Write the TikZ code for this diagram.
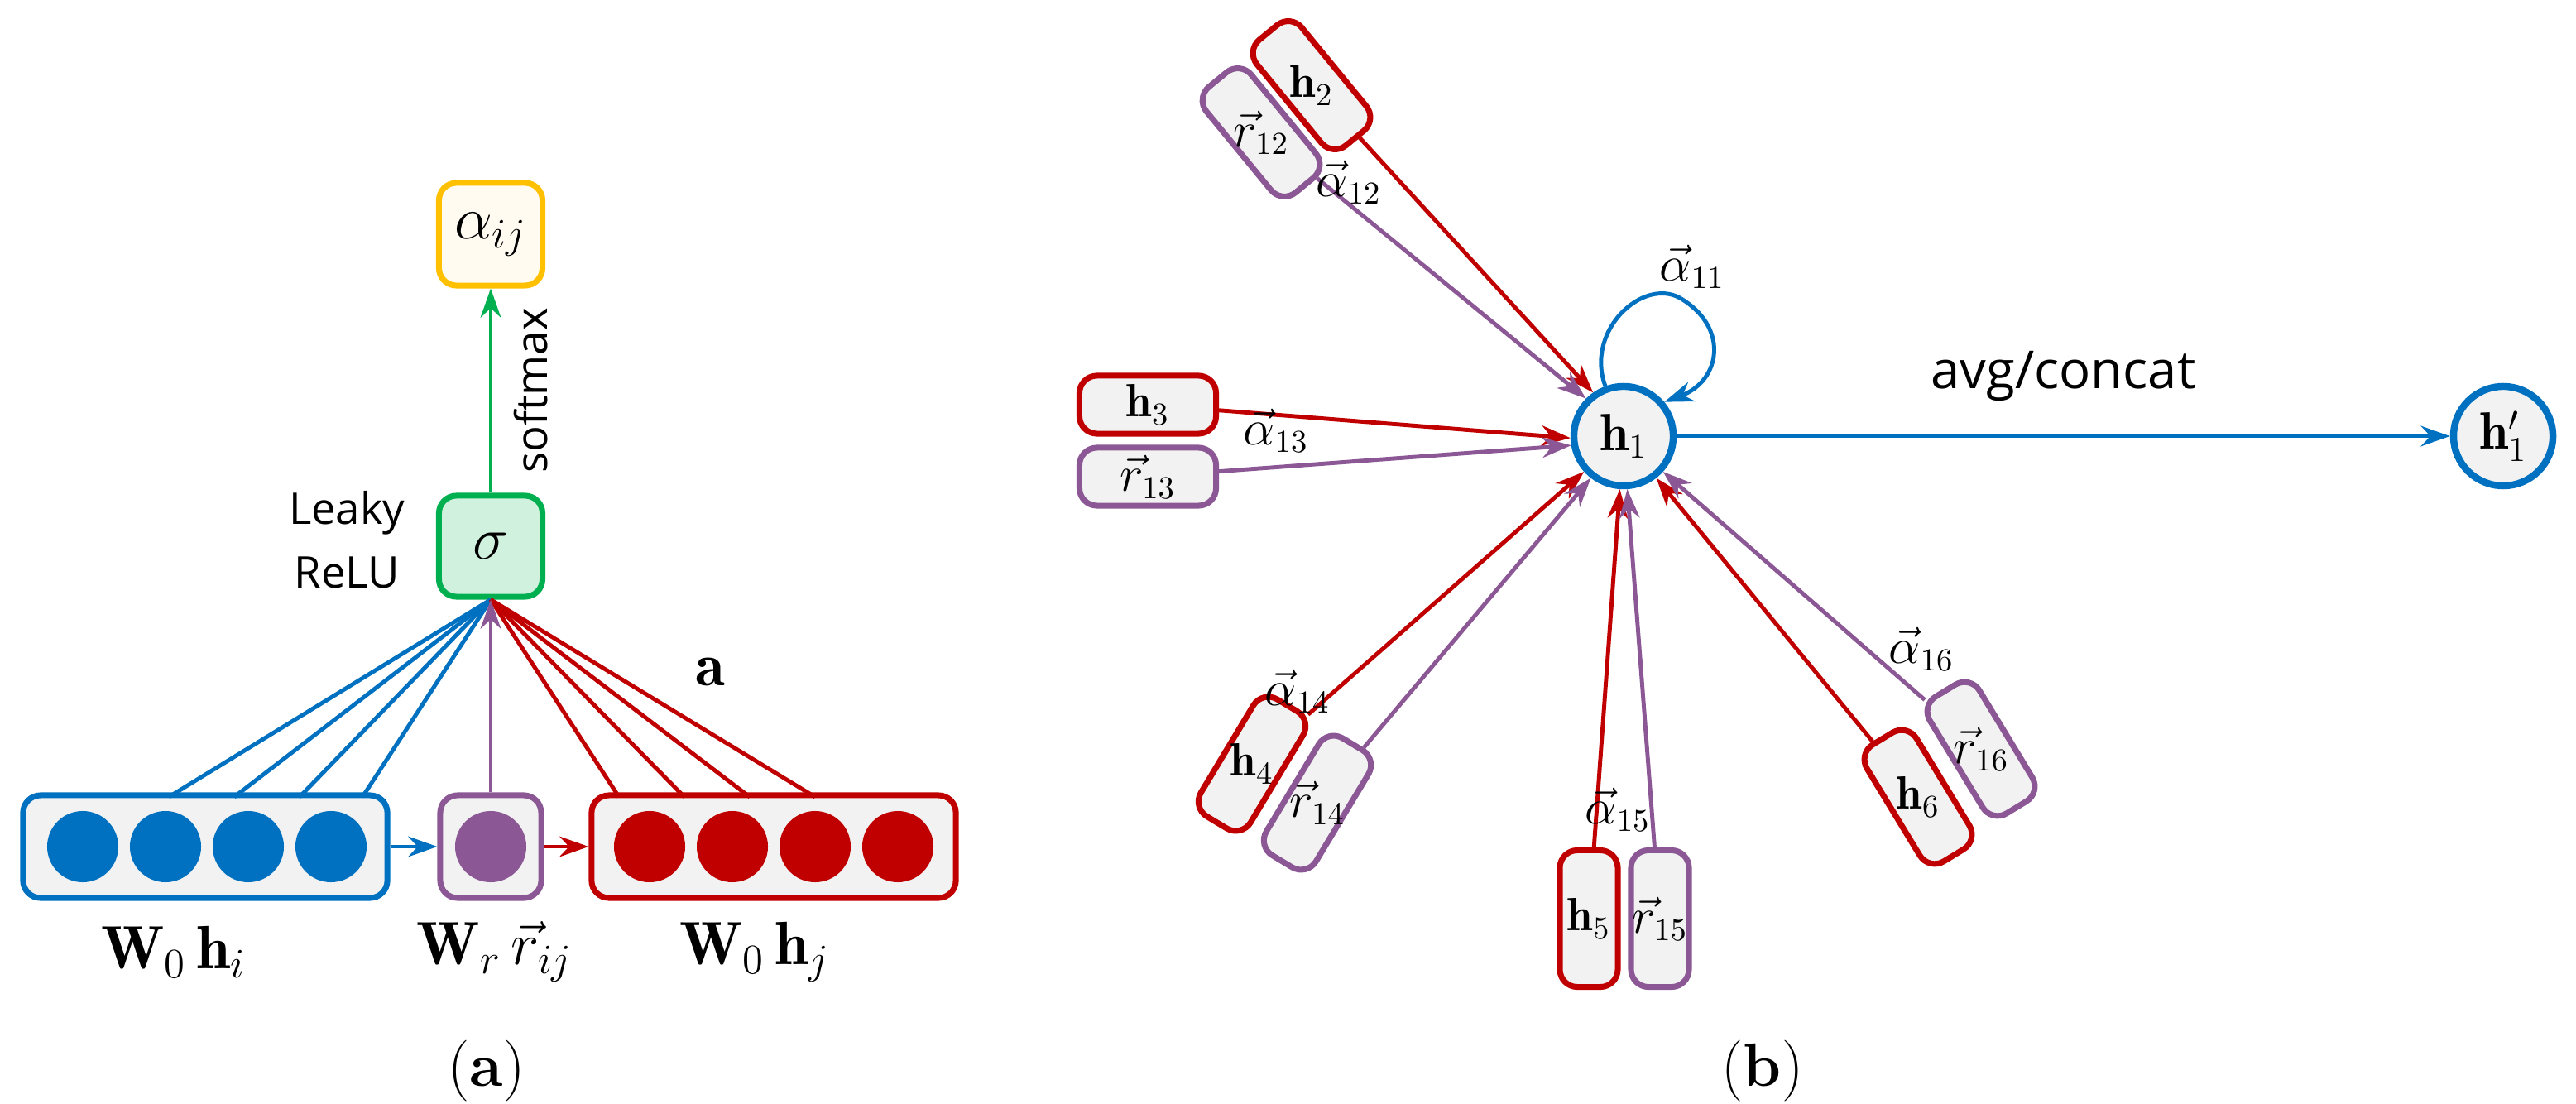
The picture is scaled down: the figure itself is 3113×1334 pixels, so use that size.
\documentclass[tikz,border=0pt]{standalone}
\usepackage{fontspec}
\usepackage{amsmath}
\newfontfamily\sansf{Open Sans}
\usetikzlibrary{arrows.meta}
\definecolor{cblue}{HTML}{0070C0}
\definecolor{cred}{HTML}{C00000}
\definecolor{cpur}{HTML}{8B5794}
\definecolor{cgreen}{HTML}{00B050}
\definecolor{cgold}{HTML}{FFC000}
\definecolor{cgray}{HTML}{F2F2F2}
\begin{document}
\begin{tikzpicture}[x=0.01cm,y=-0.01cm,
  >={Stealth[length=10pt,width=7pt]},
  box/.style={draw,rounded corners=6pt,fill=cgray,line width=2pt,inner sep=0pt},
  hb/.style={box,draw=cred,minimum width=1.65cm,minimum height=0.7cm},
  rb/.style={box,draw=cpur,minimum width=1.65cm,minimum height=0.7cm},
  lab/.style={font=\fontsize{16}{18}\selectfont,inner sep=1pt},
  big/.style={font=\fontsize{21}{23}\selectfont},
  al/.style={font=\fontsize{16}{18}\selectfont,inner sep=1pt,text=black},
  ln/.style={line width=1.4pt},
  dot/.style={circle,minimum size=0.86cm,inner sep=0pt}]
\useasboundingbox (0,0) rectangle (3113,1334);
% ---------- (a)
\node[box,draw=cgold,fill=cgold!6,minimum width=1.25cm,minimum height=1.24cm] (al) at (593,283) {\fontsize{22}{24}\selectfont$\alpha_{ij}$};
\node[box,draw=cgreen,fill=cgreen!18,minimum width=1.25cm,minimum height=1.22cm] (sig) at (593,660) {\fontsize{22}{24}\selectfont$\sigma$};
\node[font=\sansf\fontsize{15}{22}\selectfont,align=center,anchor=east] (lr) at (502,652) {Leaky\\ReLU};
\draw[->,cgreen,ln] (sig) -- node[right=2pt,rotate=90,anchor=north,text=black,font=\sansf\fontsize{15}{18}\selectfont,yshift=-2pt] {softmax} (al);
\node[box,draw=cblue,minimum width=4.4cm,minimum height=1.24cm] (L) at (248,1023) {};
\node[box,draw=cpur,minimum width=1.22cm,minimum height=1.24cm] (M) at (593,1023) {};
\node[box,draw=cred,minimum width=4.4cm,minimum height=1.24cm] (R) at (935,1023) {};
\foreach \x [count=\i] in {100,200,300,400}{\node[dot,fill=cblue] (l\i) at (\x,1023) {};}
\node[dot,fill=cpur,minimum size=0.72cm,minimum height=0.86cm] (m1) at (593,1023) {};
\foreach \x [count=\i] in {785,885,985,1085}{\node[dot,fill=cred] (r\i) at (\x,1023) {};}
\coordinate (s) at (sig.south);
\foreach \x in {204,283,362,438}{\coordinate (c) at (\x,963); \draw[cblue,ln] (c) -- (s);}
\foreach \x in {748,827,906,985}{\coordinate (c) at (\x,963); \draw[cred,ln] (c) -- (s);}
\draw[->,cpur,ln] (M.north) -- (s);
\draw[->,cblue,ln] (L.east) -- (M.west);
\draw[->,cred,ln] (M.east) -- (R.west);
\node[big] (la) at (858,812) {$\mathbf{a}$};
\node[big] (t1) at (210,1150) {$\mathbf{W}_0\,\mathbf{h}_i$};
\node[big] (t2) at (598,1150) {$\mathbf{W}_r\,\vec{r}_{ij}$};
\node[big] (t3) at (912,1150) {$\mathbf{W}_0\,\mathbf{h}_j$};
\node[big] (ca) at (588,1294) {(\textbf{a})};
\node[big] (cb) at (2130,1294) {(\textbf{b})};
% ---------- (b)
\node[circle,draw=cblue,fill=cgray,line width=2.4pt,minimum size=1.2cm,inner sep=0pt] (h1) at (1962,527) {\fontsize{18}{20}\selectfont$\mathbf{h}_1$};
\node[circle,draw=cblue,fill=cgray,line width=2.4pt,minimum size=1.2cm,inner sep=0pt] (h1p) at (3025,527) {\fontsize{18}{20}\selectfont$\mathbf{h}'_1$};
\draw[->,cblue,ln] (h1) -- node[above=8pt,text=black,font=\sansf\fontsize{18}{20}\selectfont] {avg/concat} (h1p);
\draw[->,cblue,ln] (h1.110) .. controls (1915,400) and (1985,335) .. (2030,360) .. controls (2090,395) and (2080,460) .. (h1.40);
\node[al] (a11) at (2045,322) {$\vec{\alpha}_{11}$};
% boxes
\node[hb,rotate=-50.6] (h2) at (1585,103) {}; \node[lab] at (h2) {$\mathbf{h}_2$};
\node[rb,rotate=-50.6] (r12) at (1524,160) {}; \node[lab] at (r12) {$\vec{r}_{12}$};
\node[hb] (h3) at (1387,489) {}; \node[lab] at (h3) {$\mathbf{h}_3$};
\node[rb] (r13) at (1387,576) {}; \node[lab] at (r13) {$\vec{r}_{13}$};
\node[hb,rotate=59] (h4) at (1513,923) {}; \node[lab] at (h4) {$\mathbf{h}_4$};
\node[rb,rotate=59] (r14) at (1592,970) {}; \node[lab] at (r14) {$\vec{r}_{14}$};
\node[hb,rotate=90] (h5) at (1920,1110) {}; \node[lab] at (h5) {$\mathbf{h}_5$};
\node[rb,rotate=90] (r15) at (2006,1110) {}; \node[lab] at (r15) {$\vec{r}_{15}$};
\node[hb,rotate=-58.7] (h6) at (2318,963) {}; \node[lab] at (h6) {$\mathbf{h}_6$};
\node[rb,rotate=-58.7] (r16) at (2394,905) {}; \node[lab] at (r16) {$\vec{r}_{16}$};
% arrows
\draw[->,cred,ln] (h2) -- (h1.125);
\draw[->,cpur,ln] (r12) -- (h1.135);
\draw[->,cred,ln] (h3) -- (h1.182);
\draw[->,cpur,ln] (r13) -- (h1.190);
\draw[->,cred,ln] (h4) -- (h1.222);
\draw[->,cpur,ln] (r14) -- (h1.232);
\draw[->,cred,ln] (h5) -- (h1.266);
\draw[->,cpur,ln] (r15) -- (h1.274);
\draw[->,cred,ln] (h6) -- (h1.308);
\draw[->,cpur,ln] (r16) -- (h1.318);
\node[al] (a12) at (1630,220) {$\vec{\alpha}_{12}$};
\node[al] (a13) at (1542,520) {$\vec{\alpha}_{13}$};
\node[al] (a14) at (1568,835) {$\vec{\alpha}_{14}$};
\node[al] (a15) at (1955,978) {$\vec{\alpha}_{15}$};
\node[al] (a16) at (2322,784) {$\vec{\alpha}_{16}$};
\end{tikzpicture}
\end{document}
